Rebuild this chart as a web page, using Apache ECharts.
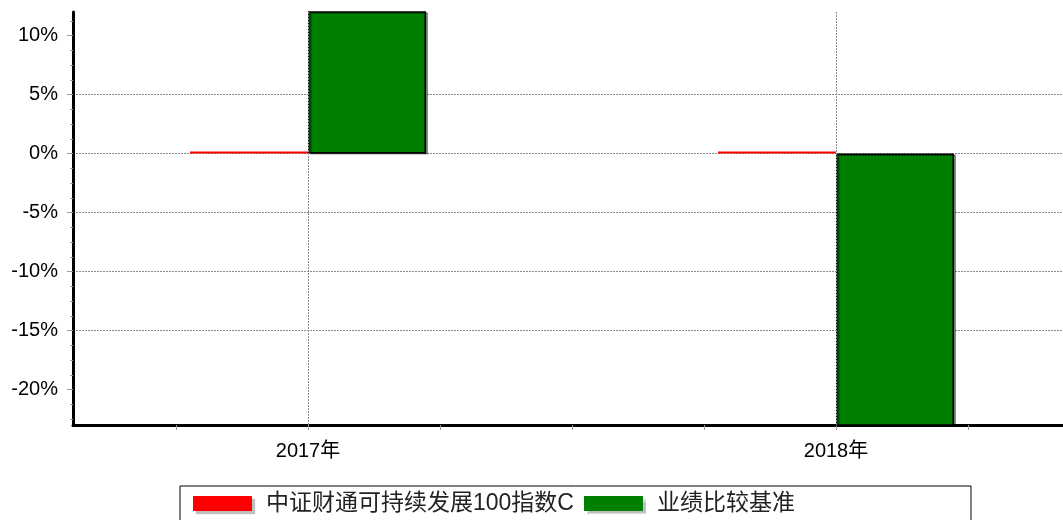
<!DOCTYPE html>
<html>
<head>
    <meta charset="UTF-8">
    <title>中证财通可持续发展100指数C</title>
    <script src="https://cdn.jsdelivr.net/npm/echarts@6.0.0/dist/echarts.min.js"></script>
    <style>
        html, body {
            margin: 0;
            padding: 0;
            background: #fff;
        }
        #main {
            width: 1063px;
            height: 520px;
        }
    </style>
</head>
<body>
<div id="main"></div>
<script type="text/javascript">
    // 年份 / 系列数据
    var years = ['2017年', '2018年'];
    var fundName = '中证财通可持续发展100指数C';
    var benchName = '业绩比较基准';
    var fundValues = [0, 0];
    var benchValues = [18.5, -28.0];

    // 坐标轴刻度
    var yLabels = [-20, -15, -10, -5, 0, 5, 10];
    var yMinorTicks = [-22.5, -21.25, -18.75, -17.5, -16.25, -13.75, -12.5, -11.25,
        -8.75, -7.5, -6.25, -3.75, -2.5, -1.25, 1.25, 2.5, 3.75, 6.25, 7.5, 8.75, 11.25];
    var xTicks = [-0.25, 0, 0.25, 0.5, 0.75, 1, 1.25];
    var xGridLines = [0, 1];

    var font = '"Liberation Sans", "Noto Sans CJK SC", sans-serif';
    var gridStyle = {color: '#8c8c8c', width: 1, type: [2, 1]};

    function toPairs(arr) {
        return arr.map(function (v, i) { return [i, v]; });
    }

    var myChart = echarts.init(document.getElementById('main'));
    var option = {
        animation: false,
        backgroundColor: '#fff',
        grid: {
            left: 73,
            right: 0,
            top: 12,
            bottom: 95
        },
        legend: {
            left: 180,
            top: 486,
            orient: 'horizontal',
            icon: 'rect',
            itemWidth: 59,
            itemHeight: 15,
            itemGap: 10,
            padding: [6, 176, 14, 13],
            borderColor: '#000',
            borderWidth: 1,
            backgroundColor: '#fff',
            itemStyle: {
                borderWidth: 0,
                shadowColor: 'rgba(0,0,0,0.25)',
                shadowOffsetX: 3,
                shadowOffsetY: 3,
                shadowBlur: 1
            },
            textStyle: {
                fontFamily: font,
                fontSize: 23,
                color: '#222',
                padding: [0, 0, 0, 9]
            },
            data: [fundName, benchName]
        },
        xAxis: {
            type: 'value',
            min: -(308 - 73) / 528,
            max: (1063 - 308) / 528,
            axisLine: {
                onZero: false,
                lineStyle: {color: '#000', width: 3}
            },
            axisTick: {
                show: true,
                customValues: xTicks,
                length: 5,
                lineStyle: {color: '#999', width: 1}
            },
            axisLabel: {
                customValues: [0, 1],
                formatter: function (v) {
                    return years[Math.round(v)];
                },
                margin: 16,
                fontFamily: font,
                fontSize: 20,
                color: '#000'
            },
            splitLine: {show: false}
        },
        yAxis: [{
            type: 'value',
            min: -23,
            max: 12,
            splitNumber: 7,
            axisLine: {
                show: true,
                onZero: false,
                lineStyle: {color: '#000', width: 3}
            },
            axisTick: {
                show: true,
                customValues: yLabels,
                length: 6,
                lineStyle: {color: '#999', width: 1}
            },
            axisLabel: {
                customValues: yLabels,
                formatter: '{value}%',
                margin: 15,
                fontFamily: font,
                fontSize: 20,
                color: '#000'
            },
            splitLine: {
                show: true,
                showMinLine: false,
                showMaxLine: false,
                lineStyle: gridStyle
            }
        }, {
            // 次刻度
            type: 'value',
            position: 'left',
            min: -23,
            max: 12,
            axisLine: {show: false, onZero: false},
            axisTick: {
                show: true,
                customValues: yMinorTicks,
                length: 3,
                lineStyle: {color: '#999', width: 1}
            },
            axisLabel: {show: false},
            splitLine: {show: false}
        }],
        series: [
            {
                // 年份竖向网格线
                type: 'line',
                data: [],
                silent: true,
                z: 1,
                markLine: {
                    silent: true,
                    symbol: 'none',
                    label: {show: false},
                    lineStyle: gridStyle,
                    data: xGridLines.map(function (v) { return {xAxis: v}; })
                }
            },
            {
                name: fundName,
                type: 'bar',
                data: toPairs(fundValues),
                barWidth: 118,
                barGap: '0%',
                barMinHeight: 2,
                itemStyle: {color: '#ff0000'}
            },
            {
                name: benchName,
                type: 'bar',
                data: toPairs(benchValues),
                barWidth: 118,
                barGap: '0%',
                itemStyle: {
                    color: '#008000',
                    borderColor: '#000',
                    borderWidth: 1.5,
                    shadowColor: 'rgba(0,0,0,0.4)',
                    shadowOffsetX: 2,
                    shadowOffsetY: 1,
                    shadowBlur: 0
                }
            }
        ]
    };
    myChart.setOption(option);
</script>
</body>
</html>
